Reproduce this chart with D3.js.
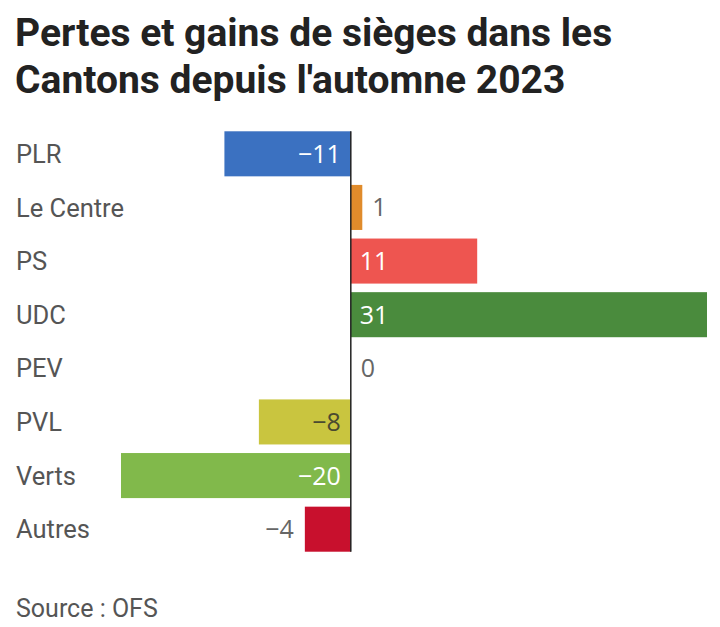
<!DOCTYPE html>
<html>
<head>
<meta charset="utf-8">
<script src="https://cdn.jsdelivr.net/npm/d3@7"></script>
<style>
  body { margin: 0; background: #fff; }
  svg { display: block; }
</style>
</head>
<body>
<svg id="main-svg" width="720" height="627"></svg>
<script>
// Données
const parties = ['PLR', 'Le Centre', 'PS', 'UDC', 'PEV', 'PVL', 'Verts', 'Autres'];
const changes = [-11, 1, 11, 31, 0, -8, -20, -4];
const partyColors = ['#3b71c1', '#e08b2b', '#ee5550', '#4a8b3d', '#999999', '#c9c53f', '#81b94b', '#c8102d'];

const svg = d3.select('#main-svg');
const fmt = v => (v < 0 ? '\u2212' + Math.abs(v) : String(v));

// Titre
const title = svg.append('text')
    .attr('font-family', 'Roboto, sans-serif')
    .attr('font-weight', 700)
    .attr('font-size', 39)
    .attr('fill', '#222');
['Pertes et gains de sièges dans les', "Cantons depuis l'automne 2023"].forEach((line, i) => {
    title.append('tspan').attr('x', 15).attr('y', 46 + i * 47).text(line);
});

// Échelles
const x = d3.scaleLinear().domain([-20, 31]).range([121, 707]);
const y = d3.scaleBand().domain(parties).range([127, 556]).paddingInner(0.16).paddingOuter(0.08);

const rows = svg.selectAll('.row')
    .data(parties.map((p, i) => ({ party: p, value: changes[i], color: partyColors[i] })))
    .enter()
    .append('g')
    .attr('class', 'row');

// Libellés des partis
rows.append('text')
    .attr('x', 16)
    .attr('y', d => y(d.party) + y.bandwidth() / 2)
    .attr('dy', '0.36em')
    .attr('font-family', 'Roboto, sans-serif')
    .attr('font-size', 25.5)
    .attr('fill', '#555')
    .text(d => d.party);

// Barres
rows.append('rect')
    .attr('x', d => x(Math.min(0, d.value)))
    .attr('y', d => y(d.party))
    .attr('width', d => Math.abs(x(d.value) - x(0)))
    .attr('height', y.bandwidth())
    .attr('fill', d => d.color);

// Valeurs
rows.append('text')
    .each(function (d) {
        const t = d3.select(this);
        const inside = Math.abs(d.value) >= 5;
        let xx, fill;
        if (inside) {
            xx = d.value < 0 ? x(0) - 10 : x(0) + 9;
            fill = d3.lab(d.color).l > 73 ? '#4a4a30' : '#fff';
        } else {
            xx = d.value < 0 ? x(d.value) - 11 : x(d.value) + 10;
            fill = '#666';
        }
        t.attr('x', xx).attr('text-anchor', d.value < 0 ? 'end' : 'start').attr('fill', fill);
    })
    .attr('y', d => y(d.party) + y.bandwidth() / 2)
    .attr('dy', '0.36em')
    .attr('font-family', '"Open Sans", "Noto Sans", sans-serif')
    .attr('font-size', 25)
    .text(d => fmt(d.value));

// Axe zéro
svg.append('line')
    .attr('x1', x(0)).attr('x2', x(0))
    .attr('y1', y(parties[0])).attr('y2', y(parties[parties.length - 1]) + y.bandwidth())
    .attr('stroke', '#222')
    .attr('stroke-width', 1.5);

// Source
svg.append('text')
    .attr('x', 16)
    .attr('y', 617)
    .attr('font-family', 'Roboto, sans-serif')
    .attr('font-size', 25)
    .attr('fill', '#555')
    .text('Source : OFS');
</script>
</body>
</html>
